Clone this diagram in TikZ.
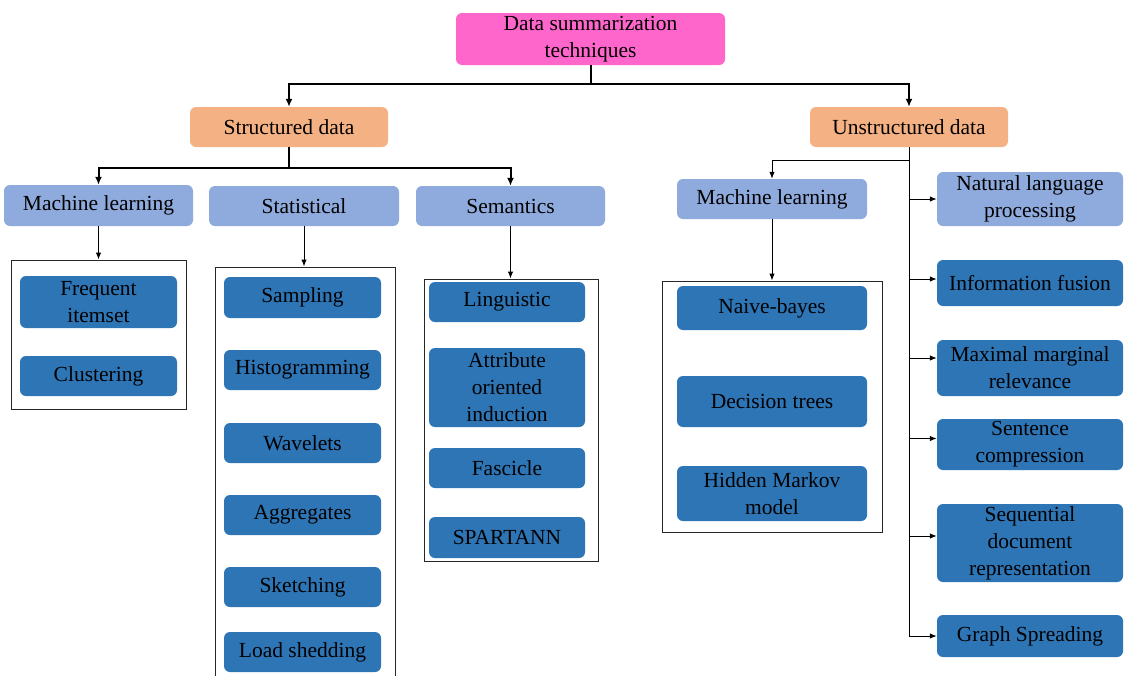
\documentclass[tikz,border=0pt]{standalone}
\usepackage{fontspec}
\setmainfont{Liberation Serif}
\usetikzlibrary{arrows.meta}
\definecolor{rootpink}{HTML}{FF66CC}
\definecolor{lvlorange}{HTML}{F4B183}
\definecolor{lightblue}{HTML}{8FAADC}
\definecolor{darkblue}{HTML}{2E75B6}
\begin{document}
\begin{tikzpicture}[x=1pt,y=-1pt,
  base/.style={rounded corners=6pt, align=center, inner sep=0pt, text=black,
    font=\fontsize{21.5}{27}\selectfont},
  rootbox/.style={base, fill=rootpink},
  lvlbox/.style={base, fill=lvlorange},
  lightbox/.style={base, fill=lightblue},
  darkbox/.style={base, fill=darkblue},
  framebox/.style={draw=black!85, line width=1pt, inner sep=0pt},
  bigarr/.style={line width=2pt, -{Latex[length=8pt,width=7pt]}},
  bigline/.style={line width=2pt},
  arr/.style={line width=1pt, -{Latex[length=7pt,width=5.5pt]}},
  thinline/.style={line width=1pt}]
\clip (0,0) rectangle (1124,675);
\fill[white] (0,0) rectangle (1124,675);

% root and level 1
\node[rootbox, minimum width=269pt, minimum height=52pt] (root) at (590.5,39) {Data summarization\\techniques};
\node[lvlbox, minimum width=198pt, minimum height=40pt] (sd) at (289,127) {Structured data};
\node[lvlbox, minimum width=198pt, minimum height=40pt] (ud) at (909,127) {Unstructured data};

% structured children
\node[lightbox, minimum width=189pt, minimum height=41pt] (ml1) at (98.5,205.5) {Machine learning};
\node[lightbox, minimum width=190pt, minimum height=40pt] (stat) at (304,206) {Statistical};
\node[lightbox, minimum width=189pt, minimum height=40pt] (sem) at (510.5,206) {Semantics};

% frames
\node[framebox, minimum width=175pt, minimum height=149pt] (f1) at (98.5,334.5) {};
\node[framebox, minimum width=180pt, minimum height=418pt] (f2) at (305,476) {};
\node[framebox, minimum width=174pt, minimum height=282pt] (f3) at (511,420) {};
\node[framebox, minimum width=220pt, minimum height=251pt] (f4) at (772,406.5) {};

% ML (structured) items
\node[darkbox, minimum width=157pt, minimum height=52pt] (fi) at (98.5,302) {Frequent\\itemset};
\node[darkbox, minimum width=157pt, minimum height=40pt] (cl) at (98.5,376) {Clustering};

% statistical items
\node[darkbox, minimum width=157pt, minimum height=41pt] (samp) at (302.5,297.5) {Sampling};
\node[darkbox, minimum width=157pt, minimum height=40pt] (hist) at (302.5,370) {Histogramming};
\node[darkbox, minimum width=157pt, minimum height=40pt] (wav) at (302.5,443) {Wavelets};
\node[darkbox, minimum width=157pt, minimum height=40pt] (agg) at (302.5,515) {Aggregates};
\node[darkbox, minimum width=157pt, minimum height=40pt] (sk) at (302.5,587) {Sketching};
\node[darkbox, minimum width=157pt, minimum height=40pt] (ls) at (302.5,652) {Load shedding};

% semantics items
\node[darkbox, minimum width=156pt, minimum height=40pt] (ling) at (507,302) {Linguistic};
\node[darkbox, minimum width=156pt, minimum height=79pt] (aoi) at (507,387.5) {Attribute\\oriented\\induction};
\node[darkbox, minimum width=156pt, minimum height=40pt] (fas) at (507,468) {Fascicle};
\node[darkbox, minimum width=156pt, minimum height=41pt] (spa) at (507,537.5) {SPARTANN};

% unstructured ML
\node[lightbox, minimum width=190pt, minimum height=40pt] (ml2) at (772,199) {Machine learning};
\node[darkbox, minimum width=190pt, minimum height=44pt] (nb) at (772,308) {Naive-bayes};
\node[darkbox, minimum width=190pt, minimum height=51pt] (dt) at (772,401.5) {Decision trees};
\node[darkbox, minimum width=190pt, minimum height=55pt] (hmm) at (772,493.5) {Hidden Markov\\model};

% right column
\node[lightbox, minimum width=186pt, minimum height=54pt] (nlp) at (1030,199) {Natural language\\processing};
\node[darkbox, minimum width=186pt, minimum height=46pt] (inf) at (1030,283) {Information fusion};
\node[darkbox, minimum width=186pt, minimum height=56pt] (mmr) at (1030,368) {Maximal marginal\\relevance};
\node[darkbox, minimum width=186pt, minimum height=51pt] (sc) at (1030,444.5) {Sentence\\compression};
\node[darkbox, minimum width=186pt, minimum height=78pt] (sdr) at (1030,543) {Sequential\\document\\representation};
\node[darkbox, minimum width=186pt, minimum height=42pt] (gs) at (1030,636) {Graph Spreading};

% connectors: root
\coordinate (rj) at ([yshift=-19pt]root.south);
\draw[bigline] (root.south) -- (rj);
\draw[bigarr] (rj) -| (sd.north);
\draw[bigarr] (rj) -| (ud.north);

% structured
\coordinate (sj) at ([yshift=-21pt]sd.south);
\draw[bigline] (sd.south) -- (sj);
\draw[bigarr] (sj) -| (ml1.north);
\draw[bigarr] (sj) -| (sem.north);

\draw[arr] (ml1.south) -- (ml1.south |- f1.north);
\draw[arr] (stat.south) -- (stat.south |- f2.north);
\draw[arr] (sem.south) -- (sem.south |- f3.north);

% unstructured
\coordinate (uj) at ([yshift=-13pt]ud.south);
\coordinate (infp) at ([yshift=4pt]inf.west);
\coordinate (mmrp) at ([yshift=10pt]mmr.west);
\coordinate (scp) at ([yshift=6pt]sc.west);
\coordinate (sdrp) at ([yshift=7pt]sdr.west);
\draw[thinline] (ud.south) -- (uj);
\draw[arr] (uj) -| (ml2.north);
\draw[arr] (ml2.south) -- (ml2.south |- f4.north);
\draw[thinline] (uj) -- (uj |- gs.west);
\draw[arr] (uj |- gs.west) -- (gs.west);
\draw[arr] (uj |- nlp.west) -- (nlp.west);
\draw[arr] (uj |- infp) -- (infp);
\draw[arr] (uj |- mmrp) -- (mmrp);
\draw[arr] (uj |- scp) -- (scp);
\draw[arr] (uj |- sdrp) -- (sdrp);
\end{tikzpicture}
\end{document}
